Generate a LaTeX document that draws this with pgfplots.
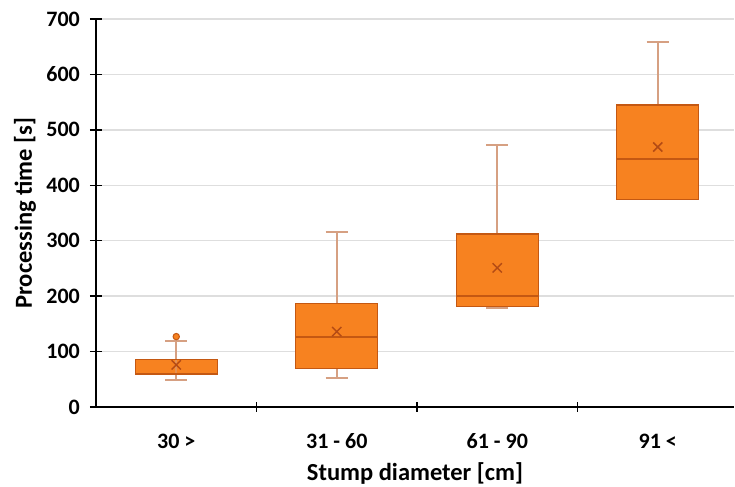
\documentclass[border=0pt]{standalone}
\usepackage{fontspec}
\setmainfont{Carlito}
\usepackage{pgfplots}
\pgfplotsset{compat=1.18}
\definecolor{boxfill}{RGB}{247,130,32}
\definecolor{boxedge}{RGB}{196,88,18}
\definecolor{whisk}{RGB}{214,160,130}
\definecolor{meancol}{RGB}{180,75,20}
\definecolor{gridc}{RGB}{222,222,222}
\begin{document}
\begin{tikzpicture}
\begin{axis}[
  scale only axis, width=638pt, height=388pt,
  xmin=-0.5, xmax=3.475, ymin=0, ymax=700,
  axis x line=bottom, axis y line=left,
  axis line style={-, black, line width=1.6pt},
  ytick={0,100,200,300,400,500,600,700},
  ymajorgrids, grid style={gridc, line width=1.4pt},
  xtick={0,1,2,3},
  xticklabels={30 >, 31 - 60, 61 - 90, 91 <},
  major x tick style={draw=none},
  minor xtick={0.5,1.5,2.5},
  minor tick length=10pt,
  minor x tick style={black, line width=1.4pt},
  major tick length=12pt,
  tick align=center,
  ytick style={black, line width=1.4pt},
  /pgf/number format/assume math mode=true,
  tick label style={font=\fontsize{22}{26}\selectfont\bfseries},
  xticklabel style={anchor=center, yshift=-28pt},
  yticklabel style={anchor=east, inner sep=0pt, xshift=-10pt},
  xlabel={Stump diameter [cm]},
  ylabel={Processing time [s]},
  label style={font=\fontsize{24.5}{28}\selectfont\bfseries},
  xlabel style={at={(axis description cs:0.5,-0.172)}, anchor=center},
  ylabel style={at={(axis description cs:-0.1113,0.5)}, anchor=center},
  clip=false,
]
% whiskers (vertical lines + caps)
\addplot[whisk, line width=1.8pt] coordinates {(0,49) (0,119)};
\addplot[whisk, line width=1.8pt] coordinates {(-0.07,49) (0.07,49)};
\addplot[whisk, line width=1.8pt] coordinates {(-0.07,119) (0.07,119)};
\addplot[whisk, line width=1.8pt] coordinates {(1,52) (1,316)};
\addplot[whisk, line width=1.8pt] coordinates {(0.93,52) (1.07,52)};
\addplot[whisk, line width=1.8pt] coordinates {(0.93,316) (1.07,316)};
\addplot[whisk, line width=1.8pt] coordinates {(2,178) (2,473)};
\addplot[whisk, line width=1.8pt] coordinates {(1.93,178) (2.07,178)};
\addplot[whisk, line width=1.8pt] coordinates {(1.93,473) (2.07,473)};
\addplot[whisk, line width=1.8pt] coordinates {(3,375) (3,659)};
\addplot[whisk, line width=1.8pt] coordinates {(2.93,375) (3.07,375)};
\addplot[whisk, line width=1.8pt] coordinates {(2.93,659) (3.07,659)};
% boxes (lower quartile to upper quartile)
\addplot[fill=boxfill, draw=boxedge, line width=1.2pt] coordinates {(-0.255,58) (0.255,58) (0.255,85) (-0.255,85)} -- cycle;
\addplot[fill=boxfill, draw=boxedge, line width=1.2pt] coordinates {(0.745,70) (1.255,70) (1.255,186) (0.745,186)} -- cycle;
\addplot[fill=boxfill, draw=boxedge, line width=1.2pt] coordinates {(1.745,182) (2.255,182) (2.255,312) (1.745,312)} -- cycle;
\addplot[fill=boxfill, draw=boxedge, line width=1.2pt] coordinates {(2.745,375) (3.255,375) (3.255,545) (2.745,545)} -- cycle;
% whisker through small box 1
\addplot[whisk, line width=1.8pt, opacity=0.5] coordinates {(0,58) (0,85)};
% medians
\addplot[boxedge, line width=1.6pt] coordinates {(-0.255,59) (0.255,59)};
\addplot[boxedge, line width=1.6pt] coordinates {(0.745,126) (1.255,126)};
\addplot[boxedge, line width=1.6pt] coordinates {(1.745,200) (2.255,200)};
\addplot[boxedge, line width=1.6pt] coordinates {(2.745,447) (3.255,447)};
% outlier
\addplot[only marks, mark=*, mark size=3.2pt, mark options={fill=boxfill, draw=boxedge, line width=1pt}] coordinates {(0,127)};
% means
\addplot[only marks, mark=x, mark size=6.5pt, mark options={draw=meancol, line width=1.5pt}] coordinates {(0,76) (1,136) (2,251) (3,469)};
\coordinate (sw) at (rel axis cs:0,0);
\coordinate (ne) at (rel axis cs:1,1);
\end{axis}
\pgfresetboundingbox
\path[use as bounding box] ([xshift=-96pt,yshift=-80pt]sw) rectangle ([xshift=1pt,yshift=19pt]ne);
\end{tikzpicture}
\end{document}
